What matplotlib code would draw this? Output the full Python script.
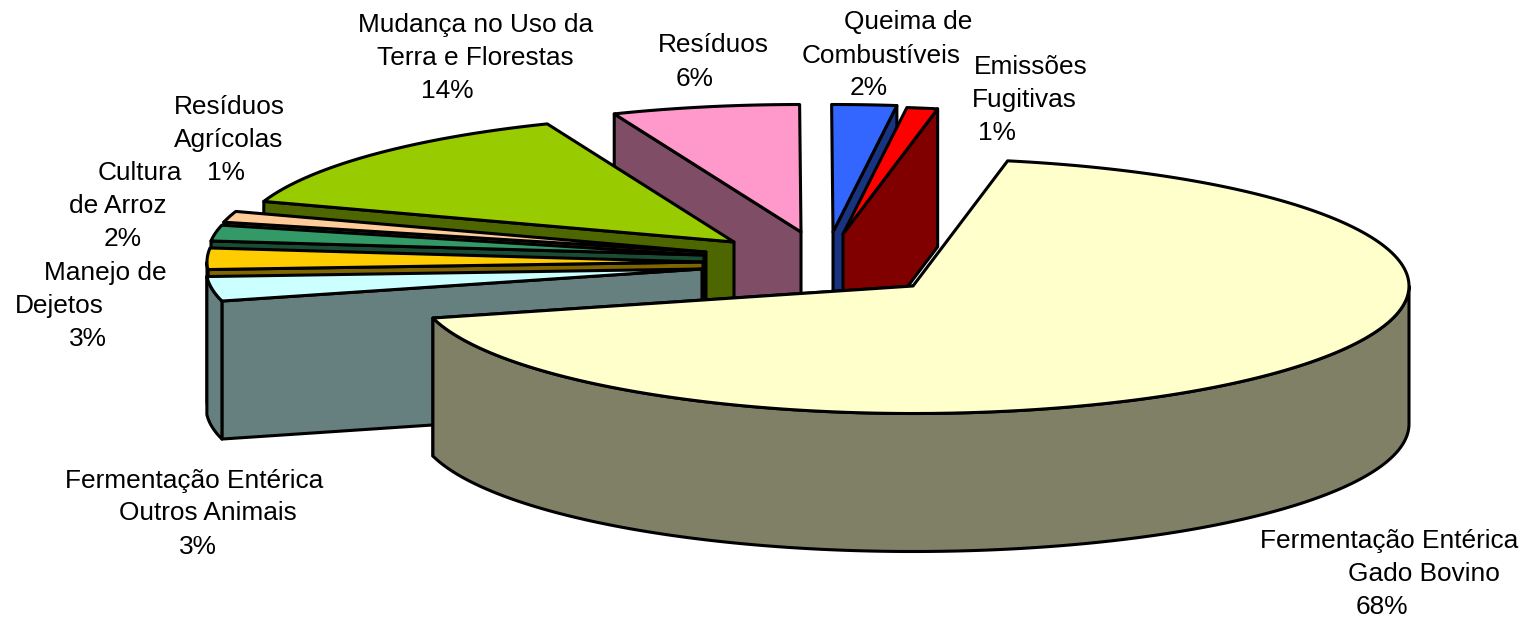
import matplotlib
matplotlib.use("Agg")
import matplotlib.pyplot as plt
import numpy as np

plt.rcParams['font.family'] = ['Liberation Sans', 'DejaVu Sans']

# shares in percent, clockwise starting with the big slice
categories = ["Gado Bovino", "Outros Animais", "Manejo de Dejetos", "Cultura de Arroz",
              "Residuos Agricolas", "Mudanca no Uso", "Residuos", "Queima", "Fugitivas"]
shares = [67.9, 3.1, 2.7, 2.0, 1.4, 13.7, 6.1, 2.1, 1.0]
top_colors = ["#FFFFCC", "#CCFFFF", "#FFCC00", "#339966", "#FFCC99",
              "#99CC00", "#FF99CC", "#3366FF", "#FF0000"]
side_colors = ["#808066", "#668080", "#806600", "#1A4D33", "#80664D",
               "#4D6600", "#804D66", "#1A3380", "#800000"]

# pie layout, in pixels of the picture
start_angle = 79.0
rx, ry, depth = 496, 127.5, 138
apex_x = [913, 702, 703, 704, 706, 734, 801, 833, 843]
apex_y = [286, 269, 262, 255, 252, 242, 232, 232, 234]
draw_order = [6, 5, 4, 3, 2, 1, 7, 8, 0]

label_lines = ["Mudança no Uso da", "Terra e Florestas", "14%",
               "Resíduos", "6%",
               "Queima de", "Combustíveis", "2%",
               "Emissões", "Fugitivas", "1%",
               "Resíduos", "Agrícolas", "1%",
               "Cultura", "de Arroz", "2%",
               "Manejo de", "Dejetos", "3%",
               "Fermentação Entérica", "Outros Animais", "3%",
               "Fermentação Entérica", "Gado Bovino", "68%"]
label_x = [476, 475, 447, 713, 695, 908, 881, 869, 1031, 1024, 997, 229, 229, 226,
           140, 118, 123, 105, 59, 88, 194, 208, 198, 1389, 1424, 1382]
label_y = [25, 58, 91, 45, 79, 22, 56, 88, 67, 100, 133, 107, 140, 173,
           173, 206, 239, 273, 306, 339, 481, 513, 547, 541, 574, 607]


def arc(cx, cy, t_from, t_to):
    t = np.radians(np.linspace(t_from, t_to, 200))
    return cx + rx * np.cos(t), cy - ry * np.sin(t)


def draw_slice(ax, cx, cy, t_hi, t_lo, top, side):
    style = dict(edgecolor="black", linewidth=2.2, joinstyle="round")
    # cut face that looks at the viewer
    t_cut = np.radians(t_hi if (t_hi + t_lo) / 2 > 90 else t_lo)
    ex, ey = cx + rx * np.cos(t_cut), cy - ry * np.sin(t_cut)
    ax.fill([cx, ex, ex, cx], [cy, ey, ey + depth, cy + depth], facecolor=side, **style)

    # outer wall, only the part on the front half of the ellipse
    for front_lo, front_hi in [(-180, 0), (180, 360)]:
        lo, hi = max(t_lo, front_lo), min(t_hi, front_hi)
        if hi > lo:
            wx, wy = arc(cx, cy, lo, hi)
            ax.fill(np.r_[wx, wx[::-1]], np.r_[wy, wy[::-1] + depth], facecolor=side, **style)

    ox, oy = arc(cx, cy, t_hi, t_lo)
    ax.fill(np.r_[cx, ox], np.r_[cy, oy], facecolor=top, **style)


fig = plt.figure(figsize=(15.32, 6.19), dpi=100)
ax = fig.add_axes([0, 0, 1, 1])
ax.set_xlim(0, 1532)
ax.set_ylim(619, 0)
ax.axis("off")

sweep = np.array(shares) / sum(shares) * 360
t_edges = start_angle - np.r_[0, np.cumsum(sweep)]
for i in draw_order:
    t_hi, t_lo = t_edges[i], t_edges[i + 1]
    # keep the angles after the big slice in 0..360
    if i > 0:
        t_hi, t_lo = t_hi + 360, t_lo + 360
    draw_slice(ax, apex_x[i], apex_y[i], t_hi, t_lo, top_colors[i], side_colors[i])

for txt, x, y in zip(label_lines, label_x, label_y):
    ax.text(x, y, txt, ha="center", va="center", fontsize=18.9, color="black")

fig.savefig("out.png", dpi=100)
